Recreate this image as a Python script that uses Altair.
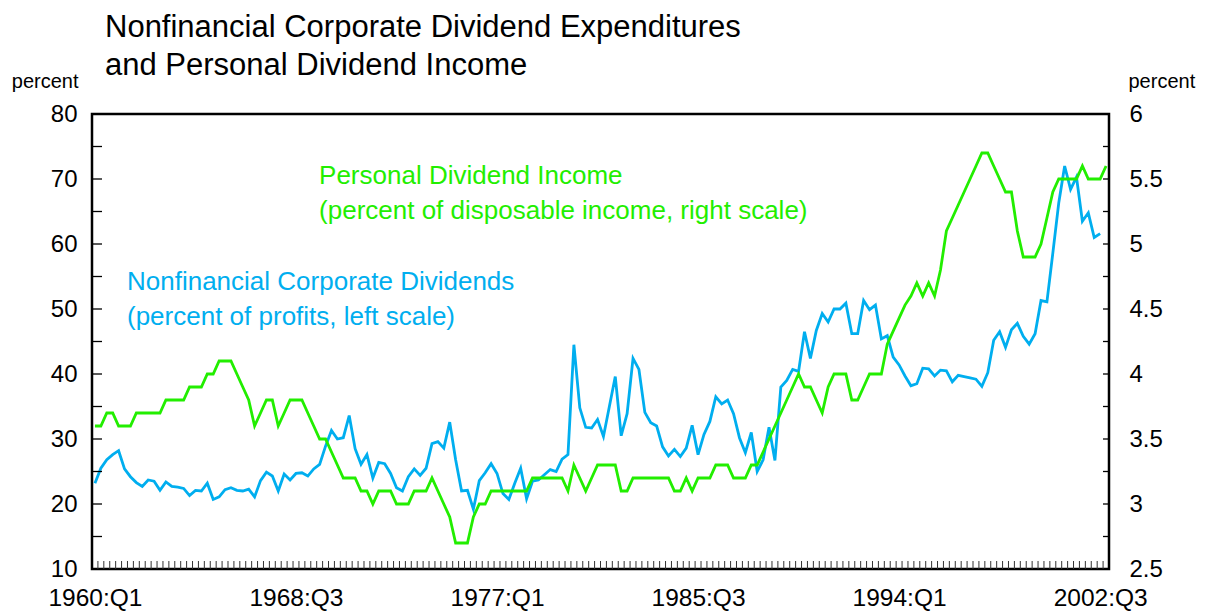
import altair as alt
import pandas as pd

# ---- data ----
# Nonfinancial corporate dividends, percent of profits (left scale), 1960:Q1 .. 2002:Q3
blue_vals = [
    23.2, 25.5, 26.8, 27.6, 28.2, 25.4, 24.2, 23.3, 22.7, 23.7,
    23.5, 22.1, 23.4, 22.7, 22.6, 22.4, 21.3, 22.1, 22.0, 23.2,
    20.7, 21.1, 22.2, 22.5, 22.1, 22.0, 22.3, 21.1, 23.6, 24.9,
    24.3, 22.0, 24.6, 23.7, 24.7, 24.8, 24.3, 25.4, 26.1, 28.9,
    31.3, 30.0, 30.2, 33.6, 28.5, 26.1, 27.6, 24.0, 26.4, 26.2,
    24.7, 22.5, 22.0, 24.2, 25.4, 24.4, 25.5, 29.3, 29.6, 28.6,
    32.6, 26.8, 22.0, 22.1, 19.2, 23.6, 24.8, 26.2, 24.7, 21.6,
    20.7, 23.2, 25.5, 20.8, 23.5, 23.7, 24.5, 25.3, 25.0, 26.9,
    27.6, 44.5, 34.8, 31.8, 31.7, 33.0, 30.4, 35.0, 39.6, 30.5,
    33.9, 42.4, 40.7, 34.1, 32.5, 32.0, 28.8, 27.4, 28.4, 27.3,
    28.6, 32.1, 27.6, 30.7, 32.7, 36.5, 35.4, 36.0, 33.9, 30.2,
    27.9, 31.0, 25.0, 26.8, 31.8, 26.7, 38.0, 39.0, 40.7, 40.4,
    46.5, 42.4, 46.7, 49.3, 48.0, 50.0, 50.0, 50.9, 46.2, 46.2,
    51.3, 49.9, 50.6, 45.4, 45.9, 42.6, 41.4, 39.7, 38.2, 38.5,
    40.9, 40.8, 39.7, 40.6, 40.5, 38.8, 39.8, 39.6, 39.4, 39.2,
    38.1, 40.2, 45.2, 46.5, 44.1, 46.8, 47.8, 45.8, 44.6, 46.2,
    51.3, 51.1, 58.6, 66.3, 72.0, 68.4, 70.3, 63.5, 64.8, 61.0,
    61.6,
]

# Personal dividend income, percent of disposable income (right scale), 1960:Q1 .. 2002:Q4
green_vals = [
    3.6, 3.6, 3.7, 3.7, 3.6, 3.6, 3.6, 3.7, 3.7, 3.7,
    3.7, 3.7, 3.8, 3.8, 3.8, 3.8, 3.9, 3.9, 3.9, 4.0,
    4.0, 4.1, 4.1, 4.1, 4.0, 3.9, 3.8, 3.6, 3.7, 3.8,
    3.8, 3.6, 3.7, 3.8, 3.8, 3.8, 3.7, 3.6, 3.5, 3.5,
    3.4, 3.3, 3.2, 3.2, 3.2, 3.1, 3.1, 3.0, 3.1, 3.1,
    3.1, 3.0, 3.0, 3.0, 3.1, 3.1, 3.1, 3.2, 3.1, 3.0,
    2.9, 2.7, 2.7, 2.7, 2.9, 3.0, 3.0, 3.1, 3.1, 3.1,
    3.1, 3.1, 3.1, 3.1, 3.2, 3.2, 3.2, 3.2, 3.2, 3.2,
    3.1, 3.3, 3.2, 3.1, 3.2, 3.3, 3.3, 3.3, 3.3, 3.1,
    3.1, 3.2, 3.2, 3.2, 3.2, 3.2, 3.2, 3.2, 3.1, 3.1,
    3.2, 3.1, 3.2, 3.2, 3.2, 3.3, 3.3, 3.3, 3.2, 3.2,
    3.2, 3.3, 3.3, 3.4, 3.5, 3.6, 3.7, 3.8, 3.9, 4.0,
    3.9, 3.9, 3.8, 3.7, 3.9, 4.0, 4.0, 4.0, 3.8, 3.8,
    3.9, 4.0, 4.0, 4.0, 4.23, 4.33, 4.43, 4.53, 4.6, 4.7,
    4.6, 4.7, 4.6, 4.8, 5.1, 5.2, 5.3, 5.4, 5.5, 5.6,
    5.7, 5.7, 5.6, 5.5, 5.4, 5.4, 5.1, 4.9, 4.9, 4.9,
    5.0, 5.2, 5.4, 5.5, 5.5, 5.5, 5.5, 5.6, 5.5, 5.5,
    5.5, 5.6,
]

first_year = 1960
x_label_quarters = [0, 34, 68, 102, 136, 170]          # 1960:Q1 ... 2002:Q3
left_labels = [10, 20, 30, 40, 50, 60, 70, 80]
right_labels = [2.5, 3, 3.5, 4, 4.5, 5, 5.5, 6]
side_ticks = [15, 20, 25, 30, 35, 40, 45, 50, 55, 60, 65, 70, 75]  # left-scale units
quarter_bounds = [k + 0.5 for k in range(171)]

title_lines = ["Nonfinancial Corporate Dividend Expenditures", "and Personal Dividend Income"]
green_text = ["Personal Dividend Income", "(percent of disposable income, right scale)"]
blue_text = ["Nonfinancial Corporate Dividends", "(percent of profits, left scale)"]

# ---- styling ----
BLUE = "#00AEEF"
GREEN = "#22EE00"
FONT = "Liberation Sans"
W, H = 1017, 455

xs = alt.Scale(domain=[-0.5, 171.5], nice=False, zero=False)
ys_left = alt.Scale(domain=[10, 80], nice=False, zero=False)
ys_right = alt.Scale(domain=[2.5, 6], nice=False, zero=False)

df_blue = pd.DataFrame({"q": list(range(len(blue_vals))), "v": blue_vals})
df_green = pd.DataFrame({"q": list(range(len(green_vals))), "r": green_vals})
df_side = pd.DataFrame({"t": side_ticks})
df_bounds = pd.DataFrame({"b": quarter_bounds})

x_axis = alt.Axis(
    values=x_label_quarters,
    labelExpr=f"({first_year} + floor(datum.value / 4)) + ':Q' + (datum.value % 4 + 1)",
    ticks=False, tickSize=0, domain=False, grid=False,
    labelFlush=False, labelOverlap=False, labelBound=False,
    labelFontSize=24.5, labelPadding=17, labelColor="black", title=None,
)

left_axis = alt.Axis(
    orient="left", values=left_labels, ticks=False, tickSize=0, domain=False, grid=False,
    labelFontSize=24, labelPadding=15, labelColor="black", labelOverlap=False,
    title="percent", titleAngle=0, titleX=-14, titleY=-27, titleAlign="right",
    titleBaseline="alphabetic", titleFontSize=20, titleFontWeight="normal", titleColor="black",
)

right_axis = alt.Axis(
    orient="right", values=right_labels, format="~g", ticks=False, tickSize=0, domain=False,
    grid=False, labelFontSize=24, labelPadding=20, labelColor="black", labelOverlap=False,
    title="percent", titleAngle=0, titleX=19, titleY=-27, titleAlign="left",
    titleBaseline="alphabetic", titleFontSize=20, titleFontWeight="normal", titleColor="black",
)

blue_line = alt.Chart(df_blue).mark_line(color=BLUE, strokeWidth=2.8).encode(
    x=alt.X("q:Q", scale=xs, axis=x_axis),
    y=alt.Y("v:Q", scale=ys_left, axis=left_axis),
)

bottom_ticks = alt.Chart(df_bounds).mark_rule(color="#333333", strokeWidth=1).encode(
    x=alt.X("b:Q", scale=xs, axis=x_axis),
    y=alt.value(H),
    y2=alt.value(H - 8),
)

left_ticks = alt.Chart(df_side).mark_rule(color="black", strokeWidth=1.3).encode(
    y=alt.Y("t:Q", scale=ys_left, axis=left_axis),
    x=alt.value(0),
    x2=alt.value(10),
)

right_ticks = alt.Chart(df_side).mark_rule(color="black", strokeWidth=1.3).encode(
    y=alt.Y("t:Q", scale=ys_left, axis=left_axis),
    x=alt.value(W - 6),
    x2=alt.value(W),
)


def label(text, qx, vy, color):
    return alt.Chart(pd.DataFrame({"label": [text]})).mark_text(
        align="left", baseline="alphabetic", fontSize=26, font=FONT, color=color
    ).encode(
        x=alt.datum(qx),
        y=alt.datum(vy),
        text="label:N",
    )


ann = [
    label(green_text[0], 37.9, 69.2, GREEN),
    label(green_text[1], 37.9, 63.85, GREEN),
    label(blue_text[0], 5.42, 52.9, BLUE),
    label(blue_text[1], 5.42, 47.5, BLUE),
]

left_layer = alt.layer(blue_line, bottom_ticks, left_ticks, right_ticks, *ann)

green_line = alt.Chart(df_green).mark_line(color=GREEN, strokeWidth=2.8).encode(
    x=alt.X("q:Q", scale=xs, axis=x_axis),
    y=alt.Y("r:Q", scale=ys_right, axis=right_axis),
)

chart = alt.layer(left_layer, green_line).resolve_scale(y="independent").properties(
    width=W,
    height=H,
    autosize="none",
    padding={"left": 84, "top": 106, "right": 95, "bottom": 45},
    title=alt.TitleParams(
        text=title_lines, anchor="start", frame="group", dx=13, offset=-11,
        fontSize=31, lineHeight=38, font=FONT, fontWeight="normal", color="black",
    ),
).configure(font=FONT).configure_view(stroke="black", strokeWidth=2.5)

chart.save("out.html", embed_options={"renderer": "svg", "actions": False})
